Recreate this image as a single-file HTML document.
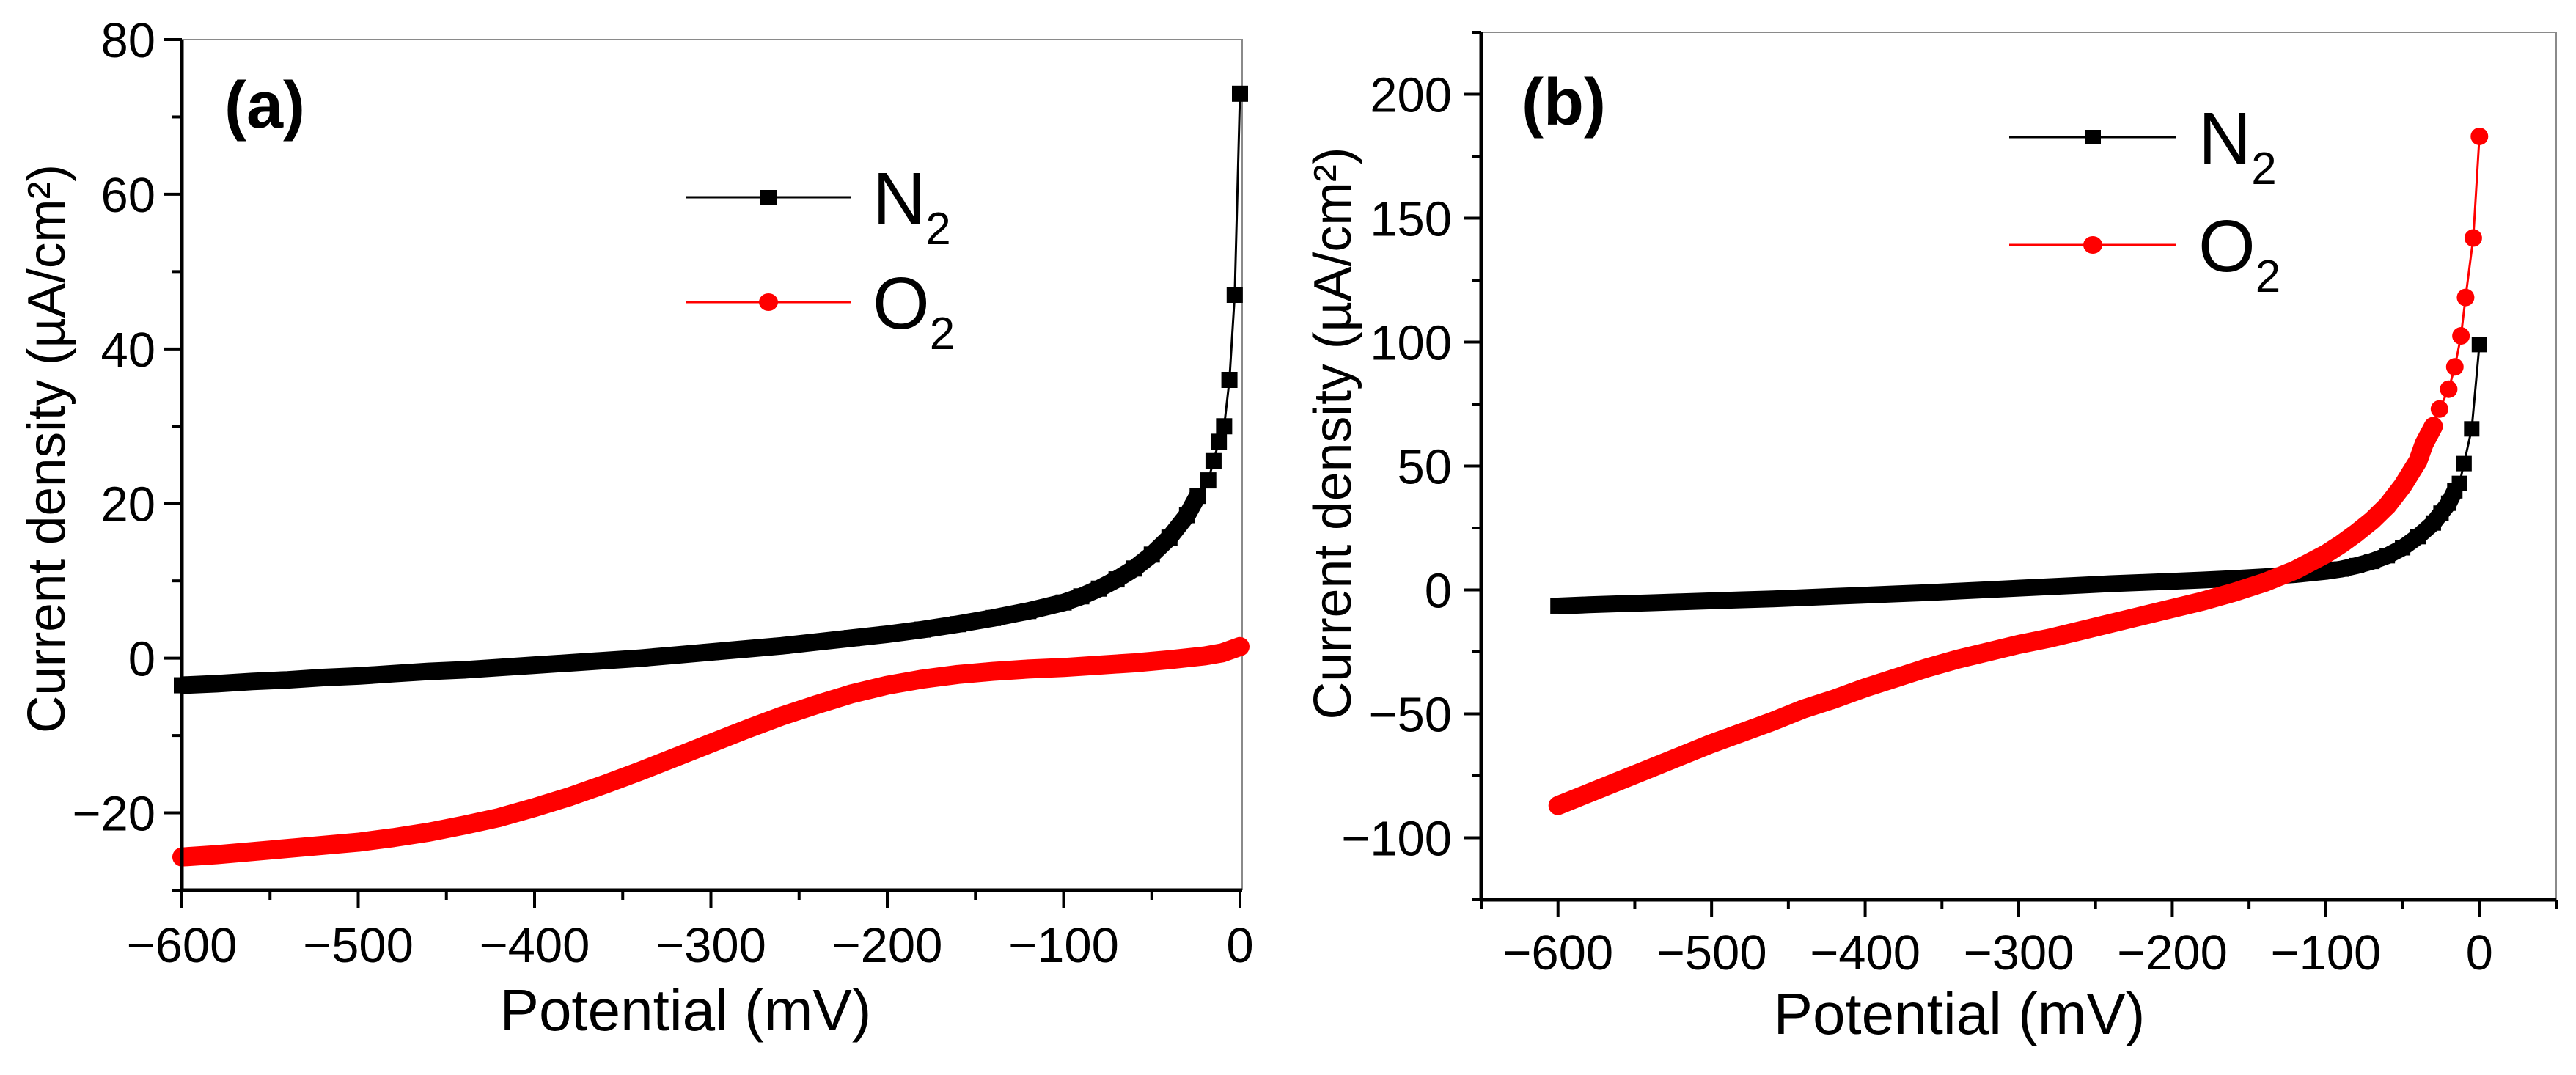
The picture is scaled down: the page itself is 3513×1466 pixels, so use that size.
<!DOCTYPE html>
<html><head><meta charset="utf-8"><style>
html,body{margin:0;padding:0;background:#fff}
svg{display:block}
text{font-family:"Liberation Sans",Arial,sans-serif;fill:#000}
</style></head><body>
<svg id="chart" width="3513" height="1466" viewBox="0 0 3513 1466" xmlns="http://www.w3.org/2000/svg">
<rect width="3513" height="1466" fill="#fff"/>
</svg>
<script>
// ---- Panel (a) data ----
const aN2X = [-600,-580,-560,-540,-520,-500,-480,-460,-440,-420,-400,-380,-360,-340,-320,-300,-280,-260,-240,-220,-200,-180,-160,-140,-120,-100,-90,-80,-70,-60,-50,-40,-30,-24,-18,-15,-12,-9,-6,-3,0];
const aN2Y = [-3.5,-3.3,-3.0,-2.8,-2.5,-2.3,-2.0,-1.7,-1.5,-1.2,-0.9,-0.6,-0.3,0.0,0.4,0.8,1.2,1.6,2.1,2.6,3.1,3.7,4.4,5.2,6.1,7.2,8.0,9.0,10.2,11.6,13.4,15.6,18.5,21,23,25.5,28,30,36,47,73];
const aO2X = [-600,-580,-560,-540,-520,-500,-480,-460,-440,-420,-400,-380,-360,-340,-320,-300,-280,-260,-240,-220,-200,-180,-160,-140,-120,-100,-80,-60,-40,-20,-10,0];
const aO2Y = [-25.7,-25.4,-25.0,-24.6,-24.2,-23.8,-23.2,-22.5,-21.6,-20.6,-19.3,-17.9,-16.3,-14.6,-12.8,-11.0,-9.2,-7.5,-6.0,-4.6,-3.5,-2.7,-2.1,-1.7,-1.4,-1.2,-0.9,-0.6,-0.2,0.3,0.7,1.5];
const aXTicks = [-600,-500,-400,-300,-200,-100,0];
const aYTicks = [-20,0,20,40,60,80];
// ---- Panel (b) data ----
const bN2X = [-600,-580,-560,-540,-520,-500,-480,-460,-440,-420,-400,-380,-360,-340,-320,-300,-280,-260,-240,-220,-200,-180,-160,-140,-120,-100,-90,-80,-70,-60,-50,-40,-30,-25,-20,-16,-13,-10,-5,0];
const bN2Y = [-6.5,-6.0,-5.6,-5.2,-4.8,-4.4,-4.0,-3.6,-3.1,-2.6,-2.1,-1.6,-1.1,-0.5,0.1,0.7,1.3,1.9,2.5,3.0,3.5,4.0,4.6,5.3,6.2,7.5,8.4,9.8,11.5,13.8,17,21.5,27,31,35,40,43,51,65,99];
const bO2X = [-600,-580,-560,-540,-520,-500,-480,-460,-440,-420,-400,-380,-360,-340,-320,-300,-280,-260,-240,-220,-200,-180,-160,-140,-120,-100,-90,-80,-70,-60,-50,-40,-36,-30,-26,-20,-16,-12,-9,-4,0];
const bO2Y = [-87,-82,-77,-72,-67,-62,-57.5,-53,-48,-44,-39.5,-35.5,-31.5,-28,-25,-22,-19.5,-16.5,-13.5,-10.5,-7.5,-4.5,-1,3,8,14.5,18.5,23,28,34,42,52,59,66,73,81,90,102.5,118,142,183];
const bXTicks = [-600,-500,-400,-300,-200,-100,0];
const bYTicks = [-100,-50,0,50,100,150,200];

const NS = "http://www.w3.org/2000/svg";
const svg = document.getElementById('chart');
function mk(tag, attrs, parent){
  const e = document.createElementNS(NS, tag);
  for (const k in attrs) e.setAttribute(k, attrs[k]);
  (parent||svg).appendChild(e);
  return e;
}

function panel(cfg){
  const g = mk('g', {});
  
  
  const sx = v => cfg.x0 + (v - cfg.xmin) / (cfg.xmax - cfg.xmin) * (cfg.x1 - cfg.x0);
  const sy = v => cfg.y1 - (v - cfg.ymin) / (cfg.ymax - cfg.ymin) * (cfg.y1 - cfg.y0);

  const fr = mk('path', {d:`M${cfg.x0} ${cfg.y0} H${cfg.x1} V${cfg.y1}`, stroke:'#8a8a8a', 'stroke-width':2, fill:'none'}, g);
  
  

  cfg.series.forEach(s => {
    const sg = mk('g', {}, g);
    
    
    const pts = s.x.map((v,i) => sx(v).toFixed(1) + ',' + sy(s.y[i]).toFixed(1));
    const dense = s.x.map((v,i)=>[v,s.y[i]]).filter(p => p[0] <= s.denseTo);
    const band = mk('polyline', {points: dense.map(p=>sx(p[0]).toFixed(1)+','+sy(p[1]).toFixed(1)).join(' '), fill:'none', stroke:s.color, 'stroke-width':s.ms+2, 'stroke-linejoin':'round', 'stroke-linecap':s.shape==='circle'?'round':'butt'}, sg);
    
    
    const line = mk('polyline', {points: pts.join(' '), fill:'none', stroke:s.color, 'stroke-width':3}, sg);
    
    
    s.x.forEach((v,i) => {
      const cx = sx(v), cy = sy(s.y[i]);
      let m;
      if (s.shape === 'square') m = mk('rect', {x:cx - s.ms/2, y:cy - s.ms/2, width:s.ms, height:s.ms, fill:s.color}, sg);
      else m = mk('circle', {cx:cx, cy:cy, r:s.ms/2, fill:s.color}, sg);
      
      
    });
  });

  const ax = mk('g', {}, g);
  
  
  mk('line', {x1:cfg.x0, y1:cfg.y0, x2:cfg.x0, y2:cfg.y1+2, stroke:'#000', 'stroke-width':5}, ax);
  mk('line', {x1:cfg.x0-2, y1:cfg.y1, x2:cfg.x1, y2:cfg.y1, stroke:'#000', 'stroke-width':5}, ax);
  for (let v = cfg.ymin; v <= cfg.ymax + 1e-9; v += cfg.yminor) {
    const major = cfg.yTicks.some(t => Math.abs(t - v) < 1e-6);
    const y = sy(v);
    mk('line', {x1:cfg.x0 - (major?24:13), y1:y, x2:cfg.x0, y2:y, stroke:'#000', 'stroke-width':4}, ax);
  }
  cfg.yTicks.forEach(t => {
    const tx = mk('text', {x:cfg.ylabX, y:sy(t)+24, 'text-anchor':'end', 'font-size':67}, ax);
    tx.textContent = t < 0 ? '\u2212' + Math.abs(t) : String(t);
    
    
  });
  for (let v = cfg.xmin; v <= cfg.xmax + 1e-9; v += cfg.xminor) {
    const major = cfg.xTicks.some(t => Math.abs(t - v) < 1e-6);
    const x = sx(v);
    mk('line', {x1:x, y1:cfg.y1, x2:x, y2:cfg.y1 + (major?24:13), stroke:'#000', 'stroke-width':4}, ax);
  }
  cfg.xTicks.forEach(t => {
    const tx = mk('text', {x:sx(t), y:cfg.xlabY, 'text-anchor':'middle', 'font-size':67}, ax);
    tx.textContent = t < 0 ? '\u2212' + Math.abs(t) : String(t);
    
    
  });
  const xt = mk('text', {x:cfg.xtitleX, y:cfg.xtitleY, 'text-anchor':'middle', 'font-size':80}, g);
  xt.textContent = 'Potential (mV)';
  
  
  const yt = mk('text', {x:0, y:0, 'text-anchor':'middle', 'font-size':72, textLength:cfg.ytitleLen, lengthAdjust:'spacingAndGlyphs', transform:`translate(${cfg.ytitleX},${cfg.ytitleY}) rotate(-90)`}, g);
  yt.textContent = 'Current density (\u00B5A/cm\u00B2)';
  
  
  const pl = mk('text', {x:cfg.labX, y:cfg.labY, 'font-size':90, 'font-weight':'bold'}, g);
  pl.textContent = cfg.label;
  
  

  const lg = mk('g', {}, g);
  
  
  cfg.series.forEach((s, i) => {
    const y = cfg.legY[i];
    const eg = mk('g', {}, lg);
    
    
    mk('line', {x1:cfg.legX0, y1:y, x2:cfg.legX1, y2:y, stroke:s.color, 'stroke-width':3}, eg);
    const mx = (cfg.legX0 + cfg.legX1)/2;
    if (s.shape === 'square') mk('rect', {x:mx-11, y:y-10, width:22, height:20, fill:s.color}, eg);
    else mk('ellipse', {cx:mx, cy:y, rx:13, ry:12, fill:s.color}, eg);
    const t = mk('text', {x:cfg.legTextX, y:y+36, 'font-size':100}, eg);
    t.textContent = s.name.charAt(0);
    const sub = mk('tspan', {'font-size':62, dy:28}, t);
    sub.textContent = '2';
  });
}

panel({id:'a', label:'(a)', x0:248, x1:1694, y0:54, y1:1214, xmin:-600, xmax:(1694-248)/240.5*100-600, ymin:-30, ymax:80,
  xTicks:aXTicks, yTicks:aYTicks, xminor:50, yminor:10, ylabX:212, xlabY:1312,
  xtitleX:935, xtitleY:1405, ytitleX:88, ytitleY:612, ytitleLen:776, labX:306, labY:174,
  legX0:936, legX1:1160, legTextX:1190, legY:[269,412],
  series:[{name:'N2', x:aN2X, y:aN2Y, color:'#000', shape:'square', ms:22, denseTo:-24},
          {name:'O2', x:aO2X, y:aO2Y, color:'#ff0000', shape:'circle', ms:24, denseTo:0}]});

panel({id:'b', label:'(b)', x0:2020, x1:3486, y0:44, y1:1227, xmin:-650, xmax:50, ymin:-125, ymax:225,
  xTicks:bXTicks, yTicks:bYTicks, xminor:50, yminor:25, ylabX:1980, xlabY:1322,
  xtitleX:2672, xtitleY:1410, ytitleX:1842, ytitleY:591, ytitleLen:781, labX:2075, labY:170,
  legX0:2740, legX1:2968, legTextX:2998, legY:[187,334],
  series:[{name:'N2', x:bN2X, y:bN2Y, color:'#000', shape:'square', ms:21, denseTo:-16},
          {name:'O2', x:bO2X, y:bO2Y, color:'#ff0000', shape:'circle', ms:24, denseTo:-30}]});
</script>
</body></html>
